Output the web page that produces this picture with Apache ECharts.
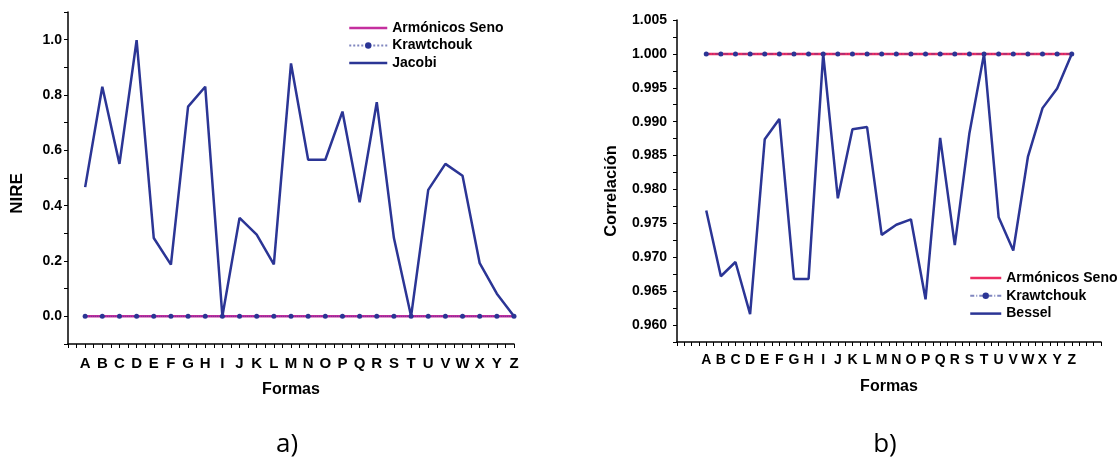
<!DOCTYPE html>
<html>
<head>
<meta charset="utf-8">
<script src="https://cdn.jsdelivr.net/npm/echarts@6/dist/echarts.min.js"></script>
<style>
html,body{margin:0;padding:0;background:#fff;}
#c{width:1119px;height:464px;}
</style>
</head>
<body>
<div id="c"></div>
<script>
// ---- data ----
const letters = ['A','B','C','D','E','F','G','H','I','J','K','L','M','N','O','P','Q','R','S','T','U','V','W','X','Y','Z'];
// Chart a) NIRE
const armonicosA = [0,0,0,0,0,0,0,0,0,0,0,0,0,0,0,0,0,0,0,0,0,0,0,0,0,0];
const krawtchoukA = [0,0,0,0,0,0,0,0,0,0,0,0,0,0,0,0,0,0,0,0,0,0,0,0,0,0];
const jacobi = [0.467,0.830,0.551,0.998,0.283,0.187,0.758,0.830,0.0,0.356,0.295,0.188,0.914,0.566,0.566,0.740,0.412,0.774,0.283,0.0,0.457,0.551,0.508,0.192,0.082,0.0];
// Chart b) Correlación
const armonicosB = [1,1,1,1,1,1,1,1,1,1,1,1,1,1,1,1,1,1,1,1,1,1,1,1,1,1];
const krawtchoukB = [1,1,1,1,1,1,1,1,1,1,1,1,1,1,1,1,1,1,1,1,1,1,1,1,1,1];
const bessel = [0.9769,0.9672,0.9693,0.9616,0.9874,0.9904,0.9668,0.9668,1.0,0.9787,0.9889,0.9892,0.9733,0.9748,0.9756,0.9638,0.9876,0.9718,0.9883,1.0,0.9759,0.9710,0.9848,0.9920,0.9949,1.0];

const toXY = arr => arr.map((v, i) => [i + 1, v]);

const navy = '#2b3595';
const magenta = '#c42f9e';
const pink = '#ec2c63';
const FONT = '"Liberation Sans", Arial, sans-serif';

const letterFmt = v => {
  const r = Math.round(v);
  if (Math.abs(v - r) > 1e-6 || r < 1 || r > 26) return '';
  return letters[r - 1];
};

const axisCommon = {
  axisLine: { show: true, onZero: false, lineStyle: { color: '#000', width: 1.5 } },
  axisTick: { show: true, length: 4, lineStyle: { color: '#000', width: 1 } },
  splitLine: { show: false },
  axisLabel: { color: '#000', fontWeight: 'bold', fontFamily: FONT }
};

const chart = echarts.init(document.getElementById('c'), null, { renderer: 'canvas' });

const legendText = { color: '#000', fontWeight: 'bold', fontSize: 14, fontFamily: FONT };

const option = {
  backgroundColor: '#fff',
  animation: false,
  grid: [
    { left: 68, top: 12, width: 446, height: 332 },
    { left: 677, top: 20, width: 424, height: 322 }
  ],
  xAxis: [
    Object.assign({}, axisCommon, {
      type: 'value', gridIndex: 0, min: 0, max: 26, interval: 0.5,
      axisLabel: Object.assign({}, axisCommon.axisLabel, { fontSize: 15, margin: 12, formatter: letterFmt })
    }),
    Object.assign({}, axisCommon, {
      type: 'value', gridIndex: 1, min: -1, max: 28, interval: 0.5,
      axisLabel: Object.assign({}, axisCommon.axisLabel, { fontSize: 14, margin: 11, formatter: letterFmt })
    })
  ],
  yAxis: [
    Object.assign({}, axisCommon, {
      type: 'value', gridIndex: 0, min: -0.1, max: 1.1, interval: 0.1,
      axisLabel: Object.assign({}, axisCommon.axisLabel, { fontSize: 14, margin: 6,
        formatter: v => { const k = Math.round(v * 10); return (k % 2 === 0 && k >= 0 && k <= 10) ? (k / 10).toFixed(1) : ''; } })
    }),
    Object.assign({}, axisCommon, {
      type: 'value', gridIndex: 1, min: 0.9575, max: 1.005, interval: 0.0025,
      axisLabel: Object.assign({}, axisCommon.axisLabel, { fontSize: 14, margin: 10,
        formatter: v => { const k = Math.round(v * 10000); return (k % 50 === 0) ? (k / 10000).toFixed(3) : ''; } })
    })
  ],
  legend: [
    {
      orient: 'vertical', left: 348, top: 21, padding: 0, itemWidth: 38, itemHeight: 8, itemGap: 3.5,
      data: [
        { name: 'Armónicos Seno', itemStyle: { opacity: 0 }, lineStyle: { color: magenta, width: 2.5 } },
        { name: 'Krawtchouk' },
        { name: 'Jacobi', itemStyle: { opacity: 0 }, lineStyle: { color: navy, width: 2.5 } }
      ],
      textStyle: legendText,
      formatter: n => n.trim()
    },
    {
      orient: 'vertical', left: 969, top: 271, padding: 0, itemWidth: 31, itemHeight: 8, itemGap: 3.8,
      data: [
        { name: 'Armónicos Seno ', itemStyle: { opacity: 0 }, lineStyle: { color: pink, width: 2.5 } },
        { name: 'Krawtchouk ' },
        { name: 'Bessel', itemStyle: { opacity: 0 }, lineStyle: { color: navy, width: 2.5 } }
      ],
      textStyle: legendText,
      formatter: n => n.trim()
    }
  ],
  series: [
    { name: 'Armónicos Seno', type: 'line', xAxisIndex: 0, yAxisIndex: 0, data: toXY(armonicosA),
      symbol: 'none', lineStyle: { color: magenta, width: 2.5 }, itemStyle: { color: magenta }, z: 2 },
    { name: 'Krawtchouk', type: 'line', xAxisIndex: 0, yAxisIndex: 0, data: toXY(krawtchoukA),
      symbol: 'circle', symbolSize: 5, lineStyle: { color: navy, width: 1, type: 'dotted', opacity: 0.6 }, itemStyle: { color: navy }, z: 3 },
    { name: 'Jacobi', type: 'line', xAxisIndex: 0, yAxisIndex: 0, data: toXY(jacobi),
      symbol: 'none', lineStyle: { color: navy, width: 2.5 }, itemStyle: { color: navy }, z: 4 },

    { name: 'Armónicos Seno ', type: 'line', xAxisIndex: 1, yAxisIndex: 1, data: toXY(armonicosB),
      symbol: 'none', lineStyle: { color: pink, width: 2.5 }, itemStyle: { color: pink }, z: 2 },
    { name: 'Krawtchouk ', type: 'line', xAxisIndex: 1, yAxisIndex: 1, data: toXY(krawtchoukB),
      symbol: 'circle', symbolSize: 5, lineStyle: { color: navy, width: 1, type: [4, 2, 1, 2], opacity: 0.6 }, itemStyle: { color: navy }, z: 3 },
    { name: 'Bessel', type: 'line', xAxisIndex: 1, yAxisIndex: 1, data: toXY(bessel),
      symbol: 'none', lineStyle: { color: navy, width: 2.5 }, itemStyle: { color: navy }, z: 4 }
  ],
  graphic: [
    { type: 'text', x: 291, y: 390, style: { text: 'Formas', font: 'bold 16px ' + FONT, fill: '#000', textAlign: 'center', textVerticalAlign: 'middle' } },
    { type: 'text', x: 889, y: 387, style: { text: 'Formas', font: 'bold 16px ' + FONT, fill: '#000', textAlign: 'center', textVerticalAlign: 'middle' } },
    { type: 'text', x: 17.5, y: 193.5, rotation: Math.PI / 2, style: { text: 'NIRE', font: 'bold 17px ' + FONT, fill: '#000', textAlign: 'center', textVerticalAlign: 'middle' } },
    { type: 'text', x: 611, y: 191, rotation: Math.PI / 2, style: { text: 'Correlación', font: 'bold 16.5px ' + FONT, fill: '#000', textAlign: 'center', textVerticalAlign: 'middle' } },
    { type: 'text', x: 287, y: 445, style: { text: 'a)', font: '26px "Open Sans", "Noto Sans", sans-serif', fill: '#000', textAlign: 'center', textVerticalAlign: 'middle' } },
    { type: 'text', x: 885, y: 445, style: { text: 'b)', font: '26px "Open Sans", "Noto Sans", sans-serif', fill: '#000', textAlign: 'center', textVerticalAlign: 'middle' } }
  ]
};
chart.setOption(option);
</script>
</body>
</html>
